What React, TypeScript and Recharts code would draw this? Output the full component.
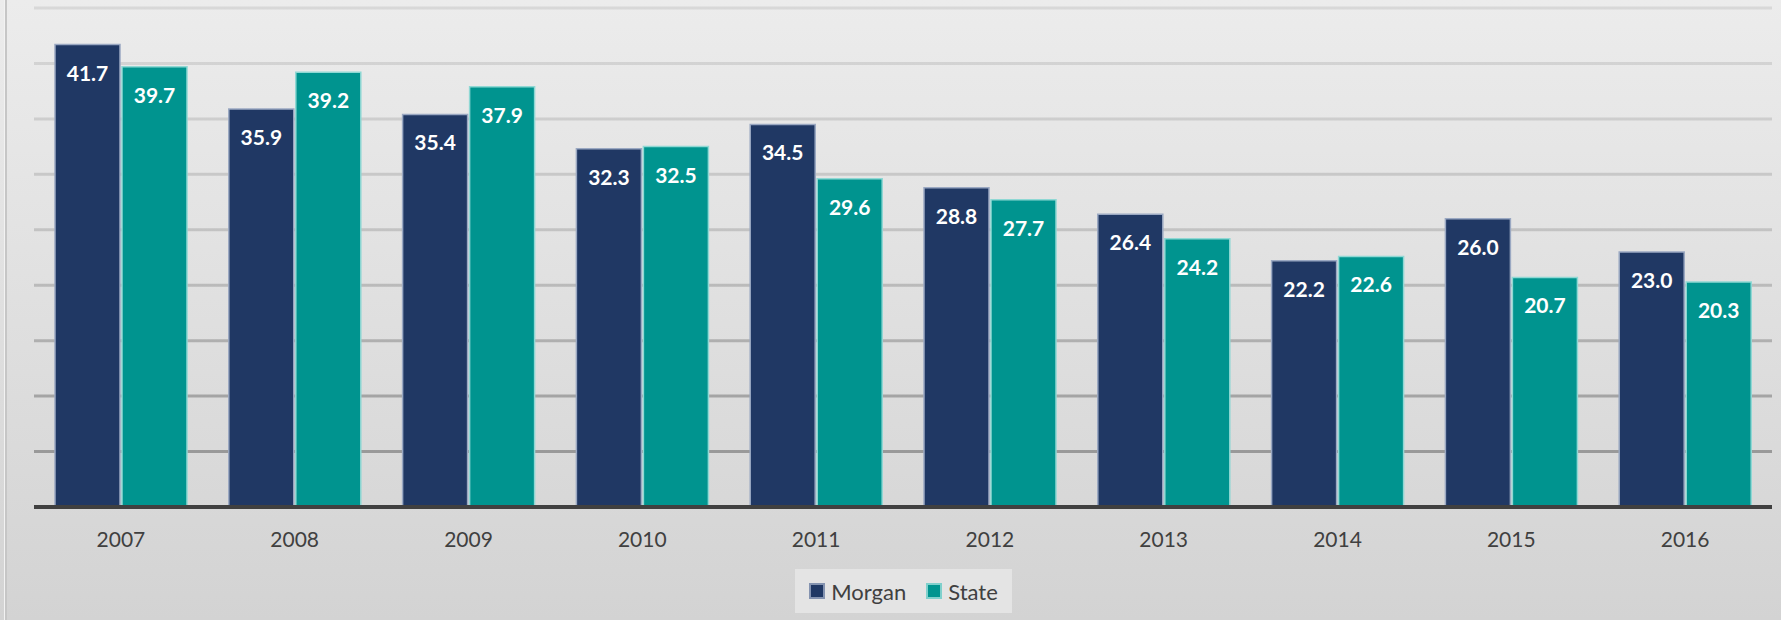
import { BarChart, Bar, XAxis, YAxis, CartesianGrid, LabelList, Legend } from "recharts"

const years = ["2007", "2008", "2009", "2010", "2011", "2012", "2013", "2014", "2015", "2016"]
const morgan = [41.7, 35.9, 35.4, 32.3, 34.5, 28.8, 26.4, 22.2, 26.0, 23.0]
const state = [39.7, 39.2, 37.9, 32.5, 29.6, 27.7, 24.2, 22.6, 20.7, 20.3]
const yTicks = [0, 5, 10, 15, 20, 25, 30, 35, 40, 45]

const NAVY = "#203864"
const TEAL = "#00948f"
const FONT = "Lato, 'Open Sans', sans-serif"

const rows = years.map((year, i) => ({ year, Morgan: morgan[i], State: state[i] }))

function LegendBox() {
  const item = (label: string, color: string, border: string) => (
    <span style={{ display: "inline-flex", alignItems: "center", marginRight: label === "Morgan" ? 20 : 0 }}>
      <span style={{ width: 12, height: 12, background: color, border: `2px solid ${border}`, marginRight: 6, display: "inline-block" }} />
      <span>{label}</span>
    </span>
  )
  return (
    <div
      style={{
        width: 217, height: 44, background: "#e4e4e4", display: "flex", alignItems: "center", justifyContent: "center",
        fontFamily: FONT, fontSize: 22, color: "#404040", boxSizing: "border-box",
      }}
    >
      {item("Morgan", NAVY, "#8493b0")}
      {item("State", TEAL, "#7fd0cc")}
    </div>
  )
}

export default function App() {
  return (
    <div
      style={{
        position: "fixed", left: 0, top: 0, width: 1781, height: 620,
        background: "linear-gradient(to bottom, #ececec, #d3d3d3)",
      }}
    >
      <div style={{ position: "absolute", left: 4, top: 0, width: 2, height: 620, background: "#c6c6c6", borderLeft: "1px solid #f2f2f2" }} />
      <BarChart
        width={1781}
        height={620}
        data={rows}
        margin={{ top: 8, right: 9, left: 34, bottom: 7 }}
        barCategoryGap={21}
        barGap={2}
      >
        <defs>
          <linearGradient id="gridFade" gradientUnits="userSpaceOnUse" x1="0" y1="8" x2="0" y2="507">
            <stop offset="0" stopColor="#d8d8d8" />
            <stop offset="0.5" stopColor="#c0c0c0" />
            <stop offset="1" stopColor="#8e8e8e" />
          </linearGradient>
        </defs>
        <CartesianGrid vertical={false} stroke="url(#gridFade)" strokeWidth={3} />
        <YAxis hide domain={[0, 45]} ticks={yTicks} />
        <XAxis
          dataKey="year"
          height={62}
          tickLine={false}
          tickMargin={19}
          axisLine={{ stroke: "#404040", strokeWidth: 4 }}
          tick={{ fill: "#404040", fontSize: 21, fontFamily: FONT }}
        />
        <Legend
          verticalAlign="bottom"
          content={() => <LegendBox />}
          wrapperStyle={{ left: 795, width: 217, height: 44 }}
        />
        <Bar dataKey="Morgan" fill={NAVY} stroke="#9aa8c2" strokeWidth={1.5} isAnimationActive={false}>
          <LabelList
            dataKey="Morgan"
            position="insideTop"
            offset={21}
            formatter={(v: number) => v.toFixed(1)}
            style={{ fill: "#ffffff", fontSize: 21, fontWeight: 700, fontFamily: FONT }}
          />
        </Bar>
        <Bar dataKey="State" fill={TEAL} stroke="#8fd8d4" strokeWidth={1.5} isAnimationActive={false}>
          <LabelList
            dataKey="State"
            position="insideTop"
            offset={21}
            formatter={(v: number) => v.toFixed(1)}
            style={{ fill: "#ffffff", fontSize: 21, fontWeight: 700, fontFamily: FONT }}
          />
        </Bar>
      </BarChart>
    </div>
  )
}
